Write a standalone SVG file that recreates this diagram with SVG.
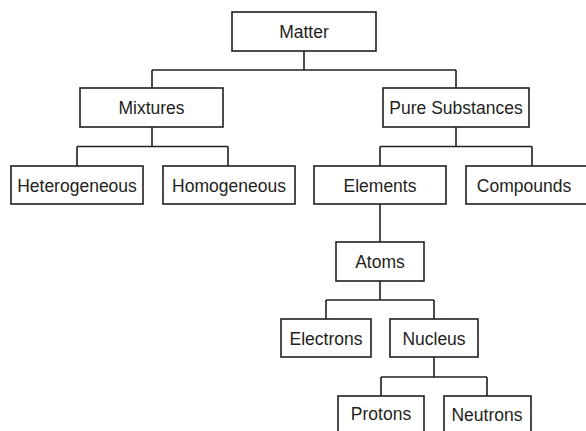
<svg xmlns="http://www.w3.org/2000/svg" width="586" height="431" viewBox="0 0 586 431">
<style>
.box{fill:#fff;stroke:#231f20;stroke-width:1.6}
.lbl{font-family:"Liberation Sans",Arial,sans-serif;font-size:17.5px;fill:#231f20;text-anchor:middle;dominant-baseline:central}
.con{fill:none;stroke:#231f20;stroke-width:1.6}
</style>
<rect width="586" height="431" fill="#fff"/>
<g id="connectors">
<path class="con" d="M304 51V70M152 70H456M152 70V88M456 70V88"/>
<path class="con" d="M152 127V146.5M77 146.5H228M77 146.5V166M228 146.5V166"/>
<path class="con" d="M456 127V146.5M380 146.5H532M380 146.5V166M532 146.5V166"/>
<path class="con" d="M380 204V242"/>
<path class="con" d="M380 281V300M326 300H434M326 300V319M434 300V319"/>
<path class="con" d="M434 357V377M381 377H487M381 377V396M487 377V396"/>
</g>
<g id="matter"><rect class="box" x="232" y="12" width="144" height="39"/><text class="lbl" x="304" y="32">Matter</text></g>
<g id="mixtures"><rect class="box" x="80" y="88" width="143" height="39"/><text class="lbl" x="151.5" y="108">Mixtures</text></g>
<g id="pure"><rect class="box" x="383" y="88" width="146" height="39"/><text class="lbl" x="456" y="108">Pure Substances</text></g>
<g id="heterogeneous"><rect class="box" x="11" y="166" width="132" height="38"/><text class="lbl" x="77" y="185.5">Heterogeneous</text></g>
<g id="homogeneous"><rect class="box" x="163" y="166" width="132" height="38"/><text class="lbl" x="229" y="185.5">Homogeneous</text></g>
<g id="elements"><rect class="box" x="314" y="166" width="132" height="38"/><text class="lbl" x="380" y="185.5">Elements</text></g>
<g id="compounds"><rect class="box" x="466" y="166" width="124" height="38"/><text class="lbl" x="524" y="185.5">Compounds</text></g>
<g id="atoms"><rect class="box" x="336" y="242" width="88" height="39"/><text class="lbl" x="380" y="262">Atoms</text></g>
<g id="electrons"><rect class="box" x="281" y="319" width="90" height="38"/><text class="lbl" x="326" y="338.5">Electrons</text></g>
<g id="nucleus"><rect class="box" x="390" y="319" width="88" height="38"/><text class="lbl" x="434" y="338.5">Nucleus</text></g>
<g id="protons"><rect class="box" x="338" y="396" width="86" height="40"/><text class="lbl" x="381" y="414">Protons</text></g>
<g id="neutrons"><rect class="box" x="444" y="396" width="87" height="40"/><text class="lbl" x="487" y="415">Neutrons</text></g>
</svg>
